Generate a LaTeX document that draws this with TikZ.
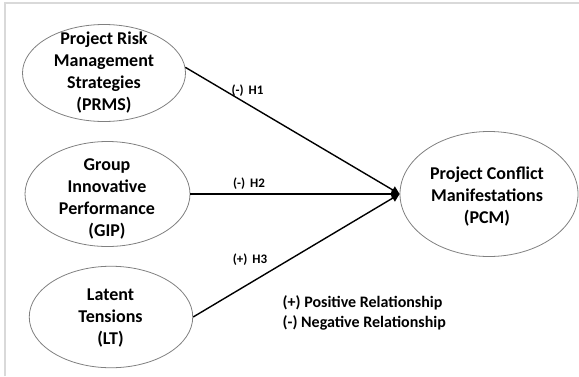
\documentclass[tikz,border=0pt]{standalone}
\usepackage{fontspec}
\setmainfont{Carlito}
\usetikzlibrary{shapes.geometric,arrows.meta}
\definecolor{framegray}{HTML}{D9D9D9}
\definecolor{ellgray}{HTML}{808080}
\tikzset{
  construct/.style={ellipse, draw=ellgray, line width=0.8pt, inner sep=0pt},
  ctext/.style={align=center, anchor=base, inner sep=0pt, font=\bfseries\fontsize{18}{22}\selectfont},
  hlabel/.style={anchor=base, inner sep=0pt, font=\bfseries\fontsize{13}{15}\selectfont},
  legend/.style={anchor=base west, inner sep=0pt, font=\bfseries\fontsize{16}{19}\selectfont},
  path/.style={line width=1.4pt, -{Triangle[length=8pt,width=8pt]}}
}
\begin{document}
\begin{tikzpicture}[x=1pt,y=-1pt]
\useasboundingbox (0,0) rectangle (579,376);
\draw[framegray, line width=2pt] (5,376) -- (5,3) -- (579,3);
% constructs
\node[construct, minimum width=163pt, minimum height=97pt] (prms) at (104,73) {};
\node[construct, minimum width=165pt, minimum height=105pt] (gip) at (107.5,194) {};
\node[construct, minimum width=163.5pt, minimum height=101.5pt] (lt) at (111,317) {};
\node[construct, minimum width=178pt, minimum height=125pt] (pcm) at (489,194) {};
% texts (anchor = baseline of last line)
\node[ctext] (tprms) at (104,110.5) {Project Risk\\Management\\Strategies\\(PRMS)};
\node[ctext] (tgip) at (107,236) {Group\\Innovative\\Performance\\(GIP)};
\node[ctext] (tlt) at (110.5,344) {Latent\\Tensions\\(LT)};
\node[ctext] (tpcm) at (487,223) {Project Conflict\\Manifestations\\(PCM)};
% paths
\draw[path] (prms.4) -- (pcm.west);
\draw[path] (gip.east) -- (pcm.west);
\draw[path] (lt.east) -- (pcm.west);
% labels
\node[hlabel] (h1) at (247.5,94) {(-)\hspace{5pt}H1};
\node[hlabel] (h2) at (249,187) {(-)\hspace{5pt}H2};
\node[hlabel] (h3) at (250,263) {(+)\hspace{5pt}H3};
% legend
\node[legend] (lg1) at (282.5,307.5) {(+) Positive Relationship};
\node[legend] (lg2) at (282.5,327) {(-) Negative Relationship};
\end{tikzpicture}
\end{document}
